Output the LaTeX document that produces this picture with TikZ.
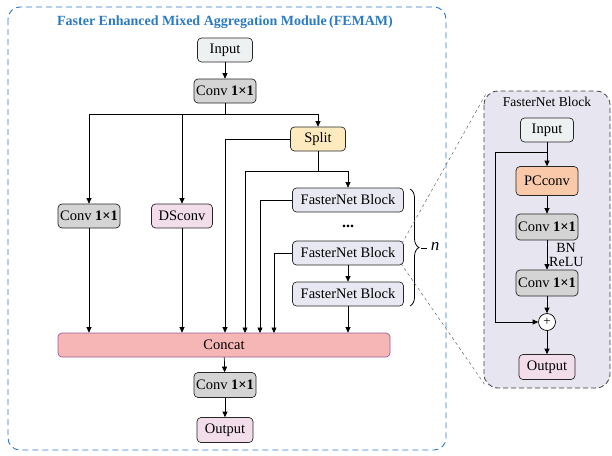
\documentclass[tikz,border=0pt]{standalone}
\usepackage{fontspec}
\setmainfont{Liberation Serif}
\usetikzlibrary{arrows.meta,decorations.pathreplacing}
\definecolor{titleblue}{HTML}{2B7BC4}
\definecolor{inputfill}{HTML}{EEF1F1}
\definecolor{convfill}{HTML}{D4D4D4}
\definecolor{dsfill}{HTML}{F2DDEB}
\definecolor{splitfill}{HTML}{FDEBBF}
\definecolor{fbfill}{HTML}{E8E8F2}
\definecolor{catfill}{HTML}{F6B6B6}
\definecolor{catedge}{HTML}{9A5A9E}
\definecolor{pcfill}{HTML}{F9C9A9}
\definecolor{panelfill}{HTML}{E7E5F0}
\tikzset{
  box/.style={draw=black!85, line width=0.7pt, rounded corners=4pt, font=\fontsize{14.5}{16}\selectfont, inner sep=0pt},
  inbox/.style={box, fill=inputfill},
  convbox/.style={box, fill=convfill},
  pinkbox/.style={box, fill=dsfill},
  fbbox/.style={box, fill=fbfill, minimum width=111pt, minimum height=24pt},
  link/.style={line width=0.7pt, draw=black},
  arr/.style={link, -{Triangle[length=5.5pt,width=5pt]}},
  note/.style={font=\fontsize{14}{14}\selectfont, inner sep=0pt},
}
\newcommand{\convtxt}{Conv \textbf{1×1}}
\begin{document}
\begin{tikzpicture}[x=1pt,y=-1pt]
\useasboundingbox (0,0) rectangle (612,455);
% outer module frame
\draw[titleblue, line width=0.9pt, dash pattern=on 6pt off 4pt, rounded corners=12pt] (8,7) rectangle (446,450);
\node[font=\fontsize{14}{15}\selectfont\bfseries, text=titleblue] (title) at (225,22) {Faster Enhanced Mixed Aggregation Module\,(FEMAM)};

% main column
\node[inbox, minimum width=55pt, minimum height=24pt] (in) at (225,50) {Input};
\node[convbox, minimum width=62pt, minimum height=24pt] (c1) at (225,91) {\convtxt};
\node[convbox, minimum width=62pt, minimum height=24pt] (cl) at (89,216) {\convtxt};
\node[pinkbox, minimum width=61pt, minimum height=24pt] (ds) at (182,216) {DSconv};
\node[box, fill=splitfill, minimum width=55pt, minimum height=24pt] (sp) at (318,139) {Split};
\node[fbbox] (fb1) at (348,200) {FasterNet Block};
\node[font=\fontsize{16}{16}\selectfont\bfseries] (dots) at (348,226) {...};
\node[fbbox] (fb2) at (348,253) {FasterNet Block};
\node[fbbox] (fb3) at (348,294) {FasterNet Block};
\node[box, fill=catfill, draw=catedge, minimum width=332pt, minimum height=24pt] (cat) at (224,345) {Concat};
\node[convbox, minimum width=62pt, minimum height=25pt] (c2) at (225,385) {\convtxt};
\node[pinkbox, minimum width=56pt, minimum height=25pt] (out) at (225,430) {Output};

% connectors
\draw[arr] (in) -- (c1);
\coordinate (hub) at (225,114);
\draw[link] (c1) -- (hub);
\draw[arr] (hub) -| (cl);
\draw[arr] (hub -| ds) -- (ds);
\draw[arr] (hub) -| (sp);
\draw[arr] (sp.west) -| (cat.north -| 225,0);
\coordinate (sb) at (318,171);
\draw[link] (sp.south) -- (sb);
\draw[arr] (sb) -| (fb1.north);
\draw[arr] (sb) -| (245,333);
\draw[arr] (fb1.west) -| (260,333);
\draw[arr] (fb2.west) -| (274,333);
\draw[arr] (fb2) -- (fb3);
\draw[arr] (fb3) -- (fb3 |- cat.north);
\draw[arr] (cl) -- (cl |- cat.north);
\draw[arr] (ds) -- (ds |- cat.north);
\draw[arr] (cat) -- (c2);
\draw[arr] (c2) -- (out);

% repetition brace
\draw[line width=0.8pt, decorate, decoration={brace, amplitude=9pt}] (410,189) -- (410,306);
\draw[line width=0.7pt] (421,248) -- (427,248);
\node[font=\fontsize{17}{17}\selectfont\itshape] (nlab) at (435,246) {n};

% FasterNet block detail panel
\draw[black!75, fill=panelfill, line width=0.8pt, dash pattern=on 5pt off 3pt, rounded corners=14pt] (484,91) rectangle (610,388);
\node[font=\fontsize{13.5}{14}\selectfont] (ptitle) at (547,102) {FasterNet Block};
\node[inbox, minimum width=53pt, minimum height=24pt] (pin) at (547,130) {Input};
\node[box, fill=pcfill, minimum width=62pt, minimum height=29pt] (pc) at (547,181) {PCconv};
\node[convbox, minimum width=62pt, minimum height=26pt] (pc1) at (547,227) {\convtxt};
\node[convbox, minimum width=62pt, minimum height=26pt] (pc2) at (547,283) {\convtxt};
\node[draw, circle, line width=0.7pt, fill=white, minimum size=17pt, inner sep=0pt, font=\fontsize{13}{13}\selectfont] (plus) at (547,322) {+};
\node[pinkbox, minimum width=56pt, minimum height=25pt] (pout) at (547,367) {Output};
\node[note, anchor=base] (bn) at (566,252) {BN};
\node[note, anchor=base west] (relu) at (549,266) {ReLU};

\coordinate (skip) at (547,152);
\draw[arr] (pin) -- (pc);
\draw[arr] (skip) -- (495,152) -- (495,322) -- (plus.west);
\draw[arr] (pc) -- (pc1);
\draw[arr] (pc1) -- (pc2);
\draw[arr] (pc2) -- (plus);
\draw[arr] (plus) -- (pout);

% zoom guide lines
\draw[black!60, dashed, line width=0.5pt] (fb2.north east) ++(-2,3) -- (487,92);
\draw[black!60, dashed, line width=0.5pt] (fb2.south east) ++(-3,-2) -- (485,385);
\end{tikzpicture}
\end{document}
